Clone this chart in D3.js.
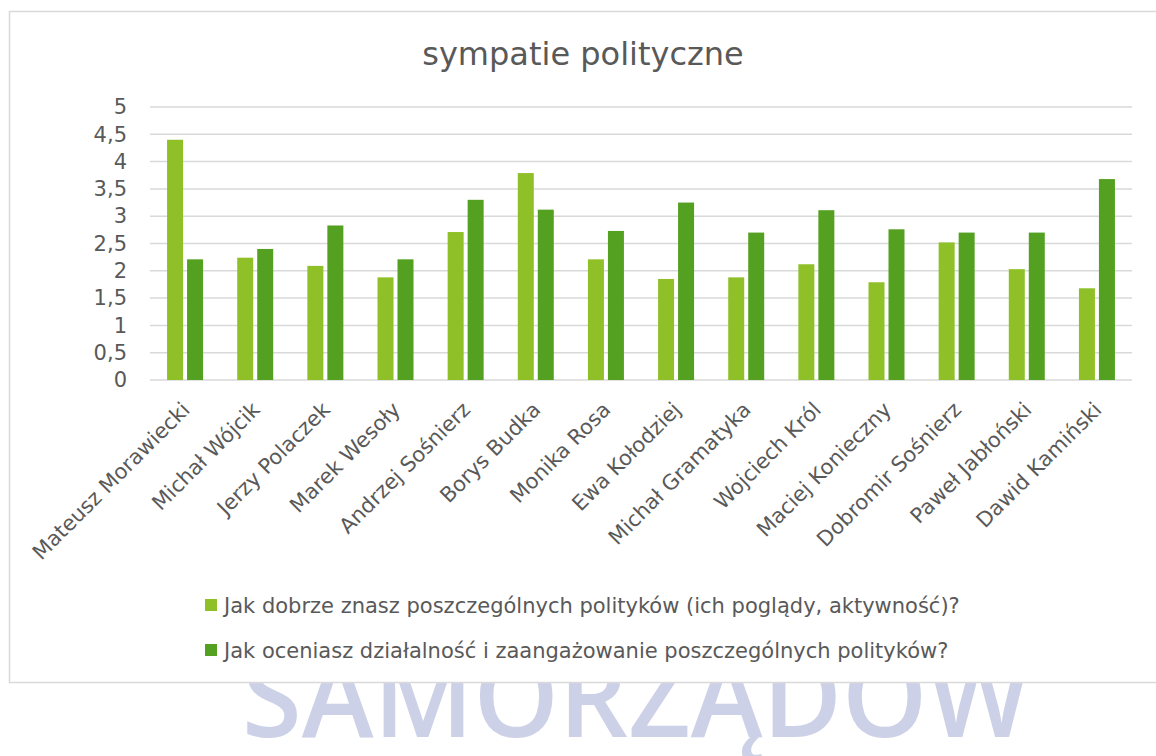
<!DOCTYPE html>
<html>
<head>
<meta charset="utf-8">
<script src="https://cdn.jsdelivr.net/npm/d3@7"></script>
<style>
  body { margin: 0; background: #fff; }
  svg text { font-family: "DejaVu Sans", sans-serif; fill: #595959; }
  .axis path, .axis line { display: none; }
</style>
</head>
<body>
<svg id="chart" width="1156" height="756"></svg>
<script>
// ---------------- data ----------------
const politicians = [
  "Mateusz Morawiecki", "Michał Wójcik", "Jerzy Polaczek", "Marek Wesoły",
  "Andrzej Sośnierz", "Borys Budka", "Monika Rosa", "Ewa Kołodziej",
  "Michał Gramatyka", "Wojciech Król", "Maciej Konieczny", "Dobromir Sośnierz",
  "Paweł  Jabłoński", "Dawid Kamiński"
];
const seriesNames = [
  "Jak dobrze znasz poszczególnych polityków (ich poglądy, aktywność)?",
  "Jak oceniasz działalność i zaangażowanie poszczególnych polityków?"
];
const knowValues = [4.40, 2.24, 2.09, 1.88, 2.71, 3.79, 2.21, 1.85, 1.88, 2.12, 1.79, 2.52, 2.03, 1.68];
const rateValues = [2.21, 2.40, 2.83, 2.21, 3.30, 3.12, 2.73, 3.25, 2.70, 3.11, 2.76, 2.70, 2.70, 3.68];
const yTicks = [0, 0.5, 1, 1.5, 2, 2.5, 3, 3.5, 4, 4.5, 5];
const colors = ["#8fc028", "#54a021"];
const chartTitle = "sympatie polityczne";
const watermark = "SAMORZĄDOW";

// ---------------- layout ----------------
const svg = d3.select("#chart");
const plot = { left: 150, right: 1132, top: 107, bottom: 380 };

// watermark behind the chart box
svg.append("text")
  .attr("x", 242).attr("y", 737)
  .attr("textLength", 788).attr("lengthAdjust", "spacingAndGlyphs")
  .style("font-family", "'Open Sans', sans-serif")
  .style("font-size", "112px")
  .style("font-weight", "600")
  .style("fill", "#ccd1e7")
  .text(watermark);

// chart box
svg.append("rect")
  .attr("x", 9.5).attr("y", 11.5)
  .attr("width", 1160).attr("height", 671)
  .attr("fill", "#fff")
  .attr("stroke", "#d9d9d9")
  .attr("stroke-width", 1.5);

svg.append("text")
  .attr("x", 583).attr("y", 65)
  .attr("text-anchor", "middle")
  .style("font-size", "32px")
  .text(chartTitle);

// ---------------- scales ----------------
const x0 = d3.scaleBand().domain(politicians).range([plot.left, plot.right]);
const x1 = d3.scaleBand().domain([0, 1]).range([0, 36]).paddingInner(0.2);
const y = d3.scaleLinear().domain([0, 5]).range([plot.bottom, plot.top]);

// gridlines
svg.append("g")
  .selectAll("line")
  .data(yTicks)
  .enter().append("line")
  .attr("x1", plot.left).attr("x2", plot.right)
  .attr("y1", d => y(d)).attr("y2", d => y(d))
  .attr("stroke", "#d9d9d9")
  .attr("stroke-width", 1.5);

// y axis
svg.append("g")
  .attr("class", "axis")
  .attr("transform", "translate(" + (plot.left - 14) + ",0)")
  .call(d3.axisLeft(y).tickValues(yTicks).tickSize(0).tickPadding(9)
    .tickFormat(d => String(d).replace(".", ",")))
  .selectAll("text")
  .style("font-size", "21px")
  .style("fill", "#595959")
  .style("font-family", "'DejaVu Sans', sans-serif");

// bars
const rows = politicians.map((name, i) => ({ name: name, values: [knowValues[i], rateValues[i]] }));
const groups = svg.append("g")
  .selectAll("g")
  .data(rows)
  .enter().append("g")
  .attr("transform", d => "translate(" + (x0(d.name) + (x0.bandwidth() - 36) / 2) + ",0)");

groups.selectAll("rect")
  .data(d => d.values.map((v, k) => ({ k: k, v: v })))
  .enter().append("rect")
  .attr("x", d => x1(d.k))
  .attr("width", x1.bandwidth())
  .attr("y", d => y(d.v))
  .attr("height", d => y(0) - y(d.v))
  .attr("fill", d => colors[d.k]);

// x labels, rotated
svg.append("g")
  .selectAll("text")
  .data(politicians)
  .enter().append("text")
  .attr("transform", d => "translate(" + (x0(d) + x0.bandwidth() / 2 + 6) + ",411) rotate(-45)")
  .attr("text-anchor", "end")
  .style("font-size", "21px")
  .text(d => d);

// legend
const legend = svg.append("g")
  .selectAll("g")
  .data(seriesNames)
  .enter().append("g")
  .attr("transform", (d, i) => "translate(205," + (599 + i * 45) + ")");

legend.append("rect")
  .attr("width", 12).attr("height", 12)
  .attr("fill", (d, i) => colors[i]);

legend.append("text")
  .attr("x", 19).attr("y", 14)
  .style("font-size", "21px")
  .text(d => d);
</script>
</body>
</html>
